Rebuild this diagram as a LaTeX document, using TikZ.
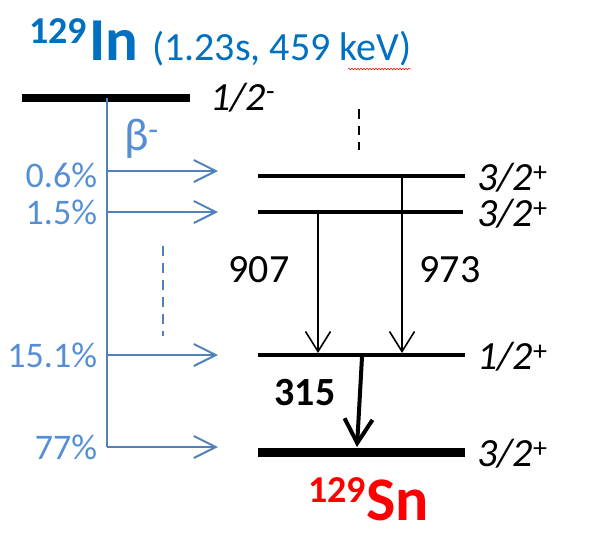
\documentclass[tikz,border=0pt]{standalone}
\usepackage{fontspec}
\setmainfont{Carlito}
\usetikzlibrary{arrows.meta,decorations.pathmorphing}
\definecolor{titleblue}{HTML}{0070C0}
\definecolor{lineblue}{HTML}{4F81BD}
\definecolor{textblue}{HTML}{558ED5}
\definecolor{snred}{HTML}{FF0000}
\tikzset{
  txt/.style={inner sep=0pt, outer sep=0pt},
  pct/.style={txt, anchor=east, text=textblue, font=\fontsize{36}{40}\selectfont},
  spin/.style={txt, anchor=west, font=\fontsize{40}{44}\selectfont\itshape},
  gam/.style={txt, font=\fontsize{40}{44}\selectfont},
  lvl/.style={line width=4pt, black},
  feed/.style={line width=2pt, lineblue, -{Straight Barb[length=22pt,width=22pt,line width=2pt]}},
  gline/.style={line width=1.6pt, black, -{Straight Barb[length=20pt,width=25pt,line width=1.6pt]}},
}
\begin{document}
\begin{tikzpicture}[x=1pt,y=-1pt]
\useasboundingbox (0,0) rectangle (596,557);
% title
\node[txt, anchor=base west, text=titleblue, font=\fontsize{61}{64}\selectfont\bfseries] (inname) at (89,60) {In};
\node[txt, anchor=base east, text=titleblue, font=\fontsize{38}{40}\selectfont\bfseries] (inmass) at (87,43) {129};
\node[txt, anchor=base west, text=titleblue, font=\fontsize{40}{44}\selectfont] (inprop) at (152,60) {(1.23s, 459 keV)};
\coordinate (wavyA) at (348,69);
\coordinate (wavyB) at (411,69);
\draw[snred, line width=0.5pt, decorate, decoration={snake, amplitude=0.8pt, segment length=3pt}] (wavyA) -- (wavyB);
% parent level
\coordinate (pL) at (22,98);
\coordinate (pR) at (190,98);
\draw[line width=8pt] (pL) -- (pR);
\node[spin, anchor=base west] (pspin) at (210,110) {1/2\textsuperscript{\upshape -}};
% beta branch
\coordinate (bTop) at (107,98);
\coordinate (bBot) at (107,447);
\draw[line width=2pt, lineblue] (bTop) -- (bBot);
\node[txt, anchor=base west, text=textblue, font=\fontsize{46}{50}\selectfont] (beta) at (124,150) {β\textsuperscript{-}};
\foreach \y/\n in {171/a,212/b,355/c,447/d}{
  \coordinate (f\n s) at (107,\y);
  \coordinate (f\n e) at (218,\y);
  \draw[feed] (f\n s) -- (f\n e);
}
\node[pct] (p1) at (97,175) {0.6\%};
\node[pct] (p2) at (97,212) {1.5\%};
\node[pct] (p3) at (97,355) {15.1\%};
\node[pct] (p4) at (97,447) {77\%};
\coordinate (bdA) at (163,246);
\coordinate (bdB) at (163,336);
\draw[lineblue, line width=2.5pt, dash pattern=on 10pt off 7pt] (bdA) -- (bdB);
\coordinate (kdA) at (359,109);
\coordinate (kdB) at (359,150);
\draw[black, line width=2.5pt, dash pattern=on 9.5pt off 7pt] (kdA) -- (kdB);
% daughter levels
\coordinate (l1L) at (258,176); \coordinate (l1R) at (465,176);
\coordinate (l2L) at (258,212); \coordinate (l2R) at (463,212);
\coordinate (l3L) at (258,355); \coordinate (l3R) at (465,355);
\coordinate (l4L) at (258,452); \coordinate (l4R) at (465,452);
\draw[lvl] (l1L) -- (l1R);
\draw[lvl] (l2L) -- (l2R);
\draw[lvl] (l3L) -- (l3R);
\draw[line width=9pt] (l4L) -- (l4R);
\node[spin] (s1) at (477,178) {3/2\textsuperscript{\upshape +}};
\node[spin] (s2) at (477,214) {3/2\textsuperscript{\upshape +}};
\node[spin] (s3) at (477,357) {1/2\textsuperscript{\upshape +}};
\node[spin] (s4) at (477,454) {3/2\textsuperscript{\upshape +}};
% gamma transitions
\coordinate (g1s) at (318,214);
\coordinate (g1e) at (318,353);
\coordinate (g2s) at (402,178);
\coordinate (g2e) at (402,353);
\draw[gline] (g1s) -- (g1e);
\draw[gline] (g2s) -- (g2e);
\coordinate (g3s) at (362,357);
\coordinate (g3e) at (357,447);
\draw[line width=4pt, -{Straight Barb[length=24pt,width=28pt,line width=4pt]}] (g3s) -- (g3e);
\node[gam] (e907) at (259,270) {907};
\node[gam] (e973) at (450,270) {973};
\node[gam, font=\fontsize{40}{44}\selectfont\bfseries] (e315) at (305,393) {315};
% daughter name
\node[txt, anchor=base west, text=snred, font=\fontsize{62}{66}\selectfont\bfseries] (snname) at (366,520) {Sn};
\node[txt, anchor=base east, text=snred, font=\fontsize{38}{40}\selectfont\bfseries] (snmass) at (366,502) {129};
\end{tikzpicture}
\end{document}
